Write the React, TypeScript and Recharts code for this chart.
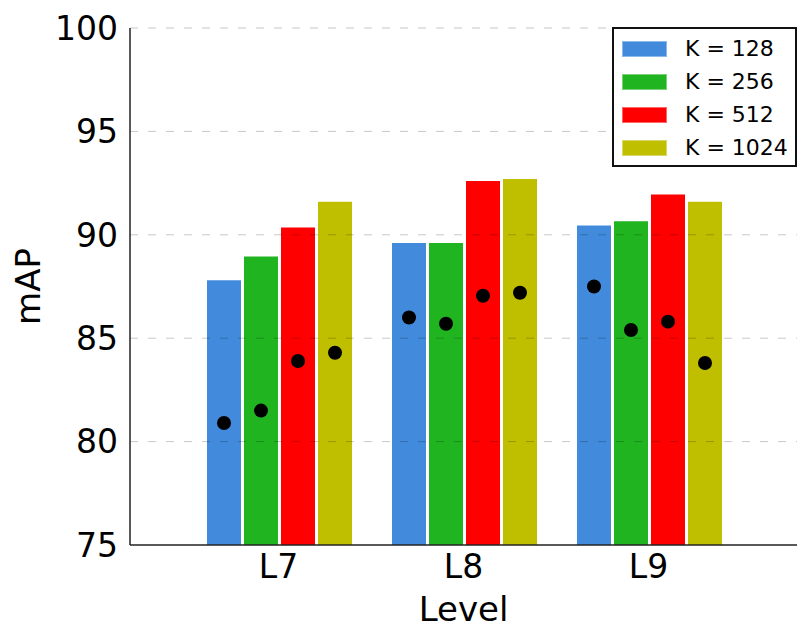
import React from 'react';
import { ComposedChart, Bar, XAxis, YAxis, ReferenceLine, Legend, Label } from 'recharts';

const levels = ['L7', 'L8', 'L9'];
const kLabels = ['K = 128', 'K = 256', 'K = 512', 'K = 1024'];
const COLORS = ['#428bdc', '#20b520', '#ff0000', '#bfbf00'];

// bar heights (mAP)
const k128 = [87.8, 89.6, 90.45];
const k256 = [88.95, 89.6, 90.65];
const k512 = [90.35, 92.6, 91.95];
const k1024 = [91.6, 92.7, 91.6];

// black markers
const k128Dot = [80.9, 86.0, 87.5];
const k256Dot = [81.5, 85.7, 85.4];
const k512Dot = [83.9, 87.05, 85.8];
const k1024Dot = [84.3, 87.2, 83.8];

const yTicks = [75, 80, 85, 90, 95, 100];
const gridLines = [80, 85, 90, 95, 100];

const data = levels.map((level, i) => ({
  level,
  k128: k128[i],
  k256: k256[i],
  k512: k512[i],
  k1024: k1024[i],
  k128Dot: k128Dot[i],
  k256Dot: k256Dot[i],
  k512Dot: k512Dot[i],
  k1024Dot: k1024Dot[i],
}));

const barKeys = ['k128', 'k256', 'k512', 'k1024'];
const FONT = 'DejaVu Sans, sans-serif';

const DotShape = (props: any) => {
  const { x, y, width } = props;
  if (x == null || y == null) return null;
  return <circle cx={x + width / 2} cy={y} r={7} fill="#000" />;
};

const LegendBox = () => (
  <div
    style={{
      boxSizing: 'border-box',
      width: 185,
      height: 140,
      border: '2px solid #111',
      background: '#fff',
      fontFamily: FONT,
      fontSize: 22,
      color: '#000',
      paddingTop: 3,
    }}
  >
    {kLabels.map((label, i) => (
      <div key={label} style={{ display: 'flex', alignItems: 'center', height: 33 }}>
        <div style={{ width: 45, height: 16, marginLeft: 8, background: COLORS[i], boxShadow: 'inset 0 0 0 1px rgba(255,255,255,0.4)' }} />
        <span style={{ marginLeft: 18, lineHeight: '33px' }}>{label}</span>
      </div>
    ))}
  </div>
);

export default function App() {
  return (
    <div style={{ position: 'absolute', left: 0, top: 0, width: 808, height: 639, background: '#fff' }}>
      <ComposedChart
        width={808}
        height={639}
        data={data}
        margin={{ top: 28, right: 11, left: 0, bottom: 0 }}
        barCategoryGap={21}
        barGap={3}
      >
        <XAxis
          xAxisId="main"
          dataKey="level"
          padding={{ left: 56, right: 56 }}
          height={94}
          tickLine={false}
          tickSize={0}
          tickMargin={10}
          axisLine={{ stroke: '#222', strokeWidth: 1.5 }}
          tick={{ fontSize: 33, fill: '#000', fontFamily: FONT }}
        >
          <Label value="Level" position="insideBottom" offset={18} style={{ fontSize: 34, fill: '#000', fontFamily: FONT }} />
        </XAxis>
        <XAxis xAxisId="dots" dataKey="level" padding={{ left: 56, right: 56 }} height={0} hide />
        <YAxis
          domain={[75, 100]}
          ticks={yTicks}
          allowDataOverflow
          width={130}
          tickLine={false}
          tickSize={0}
          tickMargin={12}
          axisLine={{ stroke: '#222', strokeWidth: 1.5 }}
          tick={{ fontSize: 33, fill: '#000', fontFamily: FONT }}
        >
          <Label
            content={(p: any) => {
              const vb = p.viewBox || { x: 0, y: 28, height: 517 };
              const cx = vb.x + 40;
              const cy = vb.y + vb.height / 2;
              return (
                <text
                  x={cx}
                  y={cy}
                  textAnchor="middle"
                  transform={`rotate(-90, ${cx}, ${cy})`}
                  style={{ fontSize: 34, fill: '#000', fontFamily: FONT }}
                >
                  mAP
                </text>
              );
            }}
          />
        </YAxis>
        {barKeys.map((k, i) => (
          <Bar key={k} xAxisId="main" dataKey={k} fill={COLORS[i]} isAnimationActive={false} legendType="rect" />
        ))}
        {gridLines.map((v) => (
          <ReferenceLine
            key={v}
            xAxisId="main"
            y={v}
            stroke="#000"
            strokeOpacity={0.22}
            strokeDasharray="8 10"
            strokeWidth={1}
          />
        ))}
        {barKeys.map((k) => (
          <Bar
            key={k + 'Dot'}
            xAxisId="dots"
            dataKey={k + 'Dot'}
            fill="transparent"
            shape={DotShape}
            isAnimationActive={false}
            legendType="none"
          />
        ))}
        <Legend
          layout="vertical"
          align="center"
          verticalAlign="middle"
          content={() => <LegendBox />}
          wrapperStyle={{ position: 'absolute', left: 612, top: 27, width: 185, height: 140 }}
        />
      </ComposedChart>
    </div>
  );
}
